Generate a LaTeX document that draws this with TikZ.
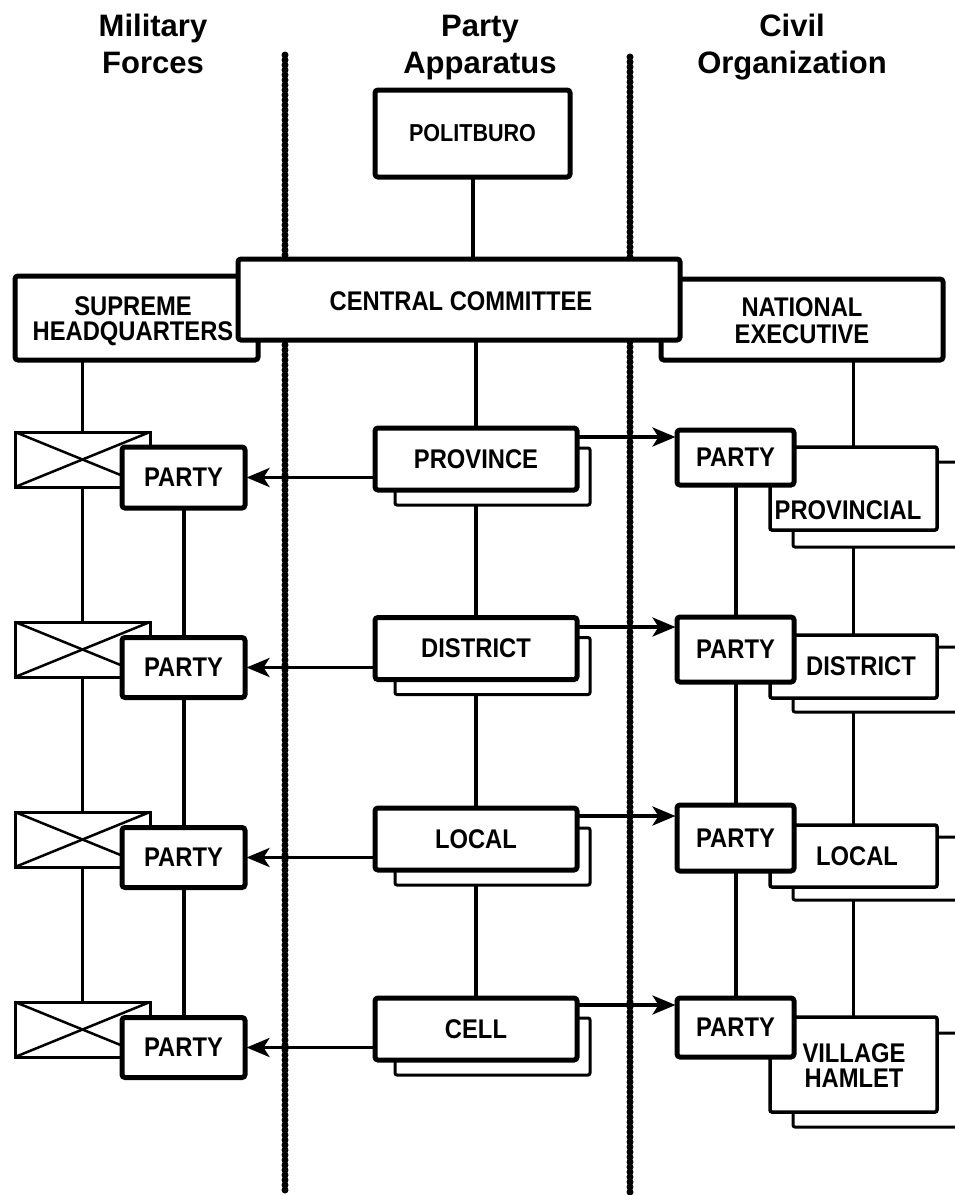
\documentclass[tikz,border=0pt]{standalone}
\usepackage{fontspec}
\setmainfont{Liberation Sans}
\newfontfamily\narrowsans{Liberation Sans}[FakeStretch=0.88]
\usetikzlibrary{arrows.meta}

\begin{document}
\begin{tikzpicture}[x=1pt,y=-1pt,
  every node/.style={font=\narrowsans\bfseries\fontsize{27}{28}\selectfont, inner sep=0pt, outer sep=0pt},
  hdr/.style={font=\bfseries\fontsize{31}{36}\selectfont, anchor=base},
  heavybox/.style={draw, line width=5pt, fill=white, rounded corners=3pt},
  civbox/.style={draw, line width=3.5pt, fill=white, rounded corners=2pt},
  backbox/.style={draw, line width=3pt, fill=white, rounded corners=2pt},
  unitbox/.style={draw, line width=3pt, fill=white},
  link/.style={line width=4pt},
  thinlink/.style={line width=3pt},
  cross/.style={line width=2.5pt},
  sep/.style={line width=7pt, line cap=round, dash pattern=on 0pt off 5pt},
  arr/.style={line width=3.5pt, shorten >=1.5pt, -{Stealth[length=23pt,width=19pt,inset=6pt]}},
]
\fill[white] (0,0) rectangle (955,1195);
\clip (0,0) rectangle (955,1195);

% column headings
\node[hdr] (h1a) at (153,36) {Military};
\node[hdr] (h1b) at (153,73) {Forces};
\node[hdr] (h2a) at (480,36) {Party};
\node[hdr] (h2b) at (480,73) {Apparatus};
\node[hdr] (h3a) at (792,36) {Civil};
\node[hdr] (h3b) at (792,73) {Organization};

% column separators
\coordinate (s1t) at (285,55);  \coordinate (s1b) at (285,1192);
\coordinate (s2t) at (630,57);  \coordinate (s2b) at (630,1192);
\draw[sep] (s1t) -- (s1b);
\draw[sep] (s2t) -- (s2b);

% arrow levels towards the civil side
\coordinate (ra1) at (0,437);
\coordinate (ra2) at (0,627);
\coordinate (ra3) at (0,816);
\coordinate (ra4) at (0,1005);

% top level
\node[heavybox, minimum width=243, minimum height=84] (hq) at (136.5,318) {};
\node[align=center, font=\narrowsans\bfseries\fontsize{27}{25.5}\selectfont] (hqt) at (133,321) {SUPREME\\HEADQUARTERS};
\node[heavybox, minimum width=282, minimum height=81] (ne) at (802,319.5) {};
\node[align=center, font=\narrowsans\bfseries\fontsize{27}{27}\selectfont] (net) at (802,321) {NATIONAL\\EXECUTIVE};
\node[heavybox, minimum width=442, minimum height=81] (cc) at (459,299.5) {};
\node (cct) at (461,301) {CENTRAL COMMITTEE};
\node[heavybox, minimum width=195, minimum height=87, font=\narrowsans\bfseries\fontsize{24.5}{26}\selectfont] (pb) at (472.5,133.5) {POLITBURO};

\draw[link] (pb.south) -- (pb.south |- cc.north);

% party apparatus column
\node[backbox, minimum width=195, minimum height=57] (provb) at (492.5,476.5) {};
\node[heavybox, minimum width=202, minimum height=62] (prov) at (476,459) {PROVINCE};
\node[backbox, minimum width=195, minimum height=57] (distb) at (492.5,666) {};
\node[heavybox, minimum width=202, minimum height=62] (dist) at (476,648.5) {DISTRICT};
\node[backbox, minimum width=195, minimum height=57] (locb) at (492.5,856.5) {};
\node[heavybox, minimum width=202, minimum height=62] (loc) at (476,839) {LOCAL};
\node[backbox, minimum width=195, minimum height=57] (cellb) at (492.5,1046.5) {};
\node[heavybox, minimum width=202, minimum height=62] (cell) at (476,1029) {CELL};
\draw[link] (prov.north |- cc.south) -- (prov.north);
\draw[link] (prov.south |- provb.south) -- (dist.north);
\draw[link] (dist.south |- distb.south) -- (loc.north);
\draw[link] (loc.south |- locb.south) -- (cell.north);

% military column
\node[unitbox, minimum width=135, minimum height=55] (mx1) at (82.5,459.5) {};
\node[unitbox, minimum width=135, minimum height=55] (mx2) at (82.5,649.5) {};
\node[unitbox, minimum width=135, minimum height=55] (mx3) at (82.5,839.5) {};
\node[unitbox, minimum width=135, minimum height=55] (mx4) at (82.5,1029.5) {};
\foreach \u in {mx1,mx2,mx3,mx4}{
  \draw[cross] (\u.north west) -- (\u.south east);
  \draw[cross] (\u.south west) -- (\u.north east);
}
\draw[thinlink] (mx1.north |- hq.south) -- (mx1.north);
\draw[thinlink] (mx1.south) -- (mx2.north);
\draw[thinlink] (mx2.south) -- (mx3.north);
\draw[thinlink] (mx3.south) -- (mx4.north);
\node[heavybox, minimum width=123, minimum height=61] (mp1) at (183.5,477.5) {PARTY};
\node[heavybox, minimum width=123, minimum height=60] (mp2) at (183.5,667.5) {PARTY};
\node[heavybox, minimum width=123, minimum height=60] (mp3) at (183.5,857.5) {PARTY};
\node[heavybox, minimum width=123, minimum height=60] (mp4) at (183.5,1047.5) {PARTY};
\draw[link] (mp1.south) -- (mp2.north);
\draw[link] (mp2.south) -- (mp3.north);
\draw[link] (mp3.south) -- (mp4.north);

% civil column
\node[backbox, minimum width=192, minimum height=85] (cb1) at (889,504.5) {};
\node[civbox, minimum width=167, minimum height=83] (cf1) at (853.5,488.5) {};
\node (cf1t) at (848,510) {PROVINCIAL};
\node[backbox, minimum width=192, minimum height=65] (cb2) at (889,679.5) {};
\node[civbox, minimum width=167, minimum height=63] (cf2) at (853.5,666.5) {};
\node (cf2t) at (861,666) {DISTRICT};
\node[backbox, minimum width=192, minimum height=63] (cb3) at (889,868.5) {};
\node[civbox, minimum width=167, minimum height=62] (cf3) at (853.5,856) {};
\node (cf3t) at (857,856) {LOCAL};
\node[backbox, minimum width=192, minimum height=94] (cb4) at (889,1080) {};
\node[civbox, minimum width=167, minimum height=95] (cf4) at (853.5,1064.5) {};
\node[align=center, font=\narrowsans\bfseries\fontsize{27}{25}\selectfont] (cf4t) at (854,1066) {VILLAGE\\HAMLET};
\draw[thinlink] (cf1.north |- ne.south) -- (cf1.north);
\draw[thinlink] (cf2.north |- cb1.south) -- (cf2.north);
\draw[thinlink] (cf3.north |- cb2.south) -- (cf3.north);
\draw[thinlink] (cf4.north |- cb3.south) -- (cf4.north);
\node[heavybox, minimum width=117, minimum height=55] (cp1) at (735.5,457.5) {PARTY};
\node[heavybox, minimum width=117, minimum height=65] (cp2) at (735.5,649.5) {PARTY};
\node[heavybox, minimum width=117, minimum height=66] (cp3) at (735.5,838) {PARTY};
\node[heavybox, minimum width=117, minimum height=59] (cp4) at (735.5,1027.5) {PARTY};
\draw[link] (cp1.south) -- (cp2.north);
\draw[link] (cp2.south) -- (cp3.north);
\draw[link] (cp3.south) -- (cp4.north);

% party control arrows
\draw[arr] (prov.west |- mp1.east) -- (mp1.east);
\draw[arr] (dist.west |- mp2.east) -- (mp2.east);
\draw[arr] (loc.west |- mp3.east) -- (mp3.east);
\draw[arr] (cell.west |- mp4.east) -- (mp4.east);
\draw[arr] (prov.east |- ra1) -- (cp1.west |- ra1);
\draw[arr] (dist.east |- ra2) -- (cp2.west |- ra2);
\draw[arr] (loc.east |- ra3) -- (cp3.west |- ra3);
\draw[arr] (cell.east |- ra4) -- (cp4.west |- ra4);
\end{tikzpicture}
\end{document}
